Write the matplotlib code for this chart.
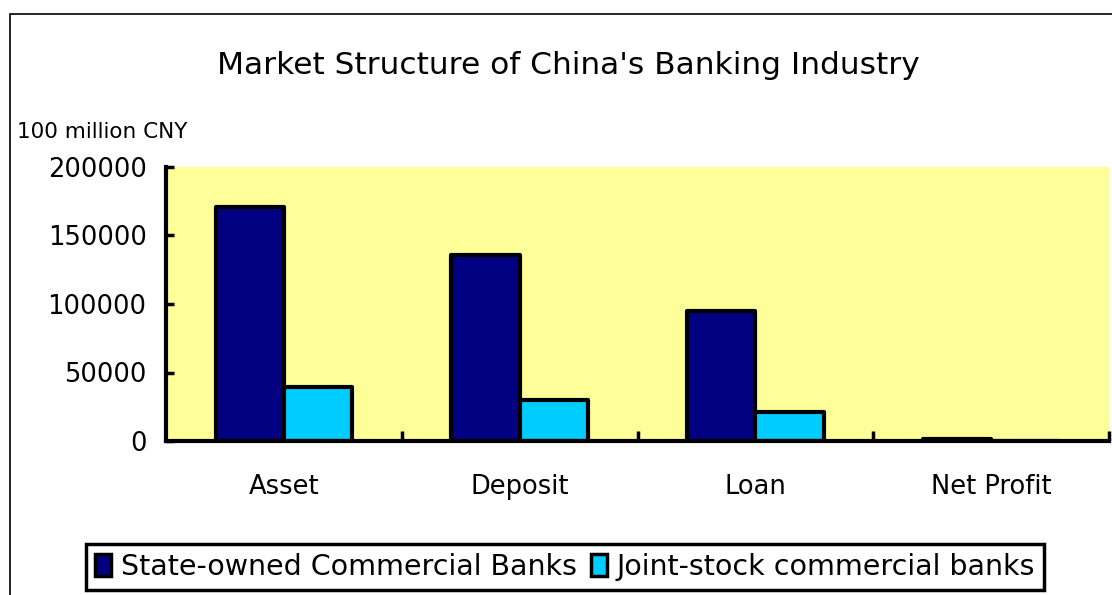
import matplotlib
matplotlib.use("Agg")
import matplotlib.pyplot as plt
from matplotlib.patches import Rectangle
import numpy as np

# 数据（单位：亿元）
categories = ["Asset", "Deposit", "Loan", "Net Profit"]
state_owned = [170800, 135800, 94900, 1500]
joint_stock = [39400, 29900, 21200, 300]
series_names = ["State-owned Commercial Banks", "Joint-stock commercial banks"]
y_ticks = [0, 50000, 100000, 150000, 200000]

plt.rcParams["font.family"] = ["DejaVu Sans"]

fig = plt.figure(figsize=(11.12, 5.95), dpi=100)

# 外框（右、下超出画布）
fig.patches.append(Rectangle((10 / 1112, -0.1), 1.2, 1 - 14 / 595 + 0.1,
                             transform=fig.transFigure, fill=False,
                             edgecolor="black", linewidth=1.2, clip_on=False))

ax = fig.add_axes([166 / 1112, 154 / 595, 943 / 1112, 274 / 595])
ax.set_facecolor("#FFFF99")

x = np.arange(len(categories))
w = 0.29
bar_kw = dict(edgecolor="black", linewidth=3, joinstyle="round")
ax.bar(x - w / 2, state_owned, w, color="#000080", label=series_names[0], **bar_kw)
ax.bar(x + w / 2, joint_stock, w, color="#00CCFF", label=series_names[1], **bar_kw)

ax.set_xlim(-0.5, len(categories) - 0.5)
ax.set_ylim(0, 200000)
ax.set_yticks(y_ticks)
ax.set_yticklabels([str(v) for v in y_ticks], fontsize=18.5)
ax.tick_params(axis="y", direction="in", length=6, width=2.5, pad=14)

ax.set_xticks(x)
ax.set_xticklabels(categories, fontsize=18.5)
ax.tick_params(axis="x", which="major", length=0, pad=24)
ax.set_xticks(np.arange(len(categories)) + 0.5, minor=True)
ax.tick_params(axis="x", which="minor", direction="in", length=7, width=2.5)

for side in ["top", "right"]:
    ax.spines[side].set_visible(False)
for side in ["left", "bottom"]:
    ax.spines[side].set_linewidth(3)

fig.text(0.511, 1 - 65 / 595, "Market Structure of China's Banking Industry",
         ha="center", va="center", fontsize=22.5)
fig.text(17 / 1112, 1 - 132 / 595, "100 million CNY", ha="left", va="center",
         fontsize=15.5)

leg = fig.legend(loc="center", bbox_to_anchor=(565 / 1112, 28 / 595), ncol=2,
                 fontsize=20.5, frameon=True, fancybox=False, framealpha=1,
                 handlelength=0.55, handleheight=0.8, handletextpad=0.35,
                 columnspacing=0.5, borderpad=0.3, borderaxespad=0)
leg.get_frame().set_edgecolor("black")
leg.get_frame().set_linewidth(2.5)
for h in leg.legend_handles:
    h.set_linewidth(2.5)

fig.savefig("out.png", dpi=100)
